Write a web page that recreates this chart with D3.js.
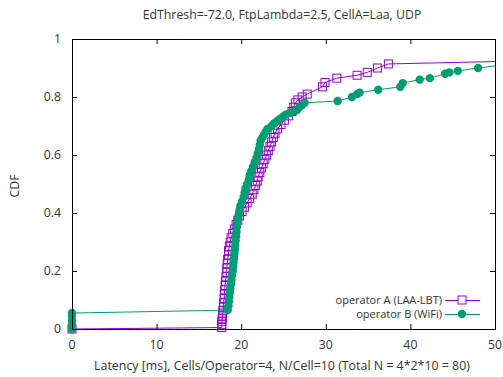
<!DOCTYPE html>
<html>
<head>
<meta charset="utf-8">
<script src="https://cdn.jsdelivr.net/npm/d3@7"></script>
<style>
  body { margin: 0; background: #fff; }
  svg { display: block; }
  text { font-family: "Open Sans", sans-serif; fill: #333; }
</style>
</head>
<body>
<svg id="chart" width="503" height="377"></svg>
<script>
// CDF points: [latency ms, cdf]
var seriesA = [
  [0, 0.0], [17.7, 0.005], [17.7, 0.015], [17.7, 0.025], [17.75, 0.035], [17.8, 0.045],
  [17.8, 0.055], [17.85, 0.065], [17.9, 0.075], [17.9, 0.09], [18.0, 0.105], [18.0, 0.12],
  [18.05, 0.135], [18.1, 0.15], [18.15, 0.165], [18.2, 0.18], [18.3, 0.195], [18.3, 0.21],
  [18.35, 0.225], [18.4, 0.24], [18.5, 0.255], [18.5, 0.27], [18.6, 0.285], [18.7, 0.30],
  [18.8, 0.315], [19.0, 0.33], [19.2, 0.345], [19.4, 0.36], [19.6, 0.375], [19.8, 0.39],
  [20.1, 0.405], [20.4, 0.42], [20.7, 0.435], [21.0, 0.45], [21.3, 0.465], [21.5, 0.48],
  [21.7, 0.495], [21.9, 0.51], [22.0, 0.525], [22.2, 0.54], [22.4, 0.555], [22.6, 0.57],
  [22.8, 0.585], [23.0, 0.60], [23.2, 0.615], [23.4, 0.63], [23.6, 0.645], [23.8, 0.66],
  [24.0, 0.675], [24.3, 0.69], [24.7, 0.705], [25.1, 0.72], [25.6, 0.735], [26.0, 0.75],
  [26.2, 0.765], [26.4, 0.78], [26.7, 0.79], [27.2, 0.80], [27.8, 0.81], [29.6, 0.835],
  [29.9, 0.85], [31.3, 0.865], [33.7, 0.875], [34.9, 0.885], [36.1, 0.90], [37.4, 0.914],
  [62, 0.93]
];
var seriesB = [
  [0, 0.0], [0, 0.015], [0, 0.03], [0, 0.045], [0, 0.055], [18.4, 0.065],
  [18.5, 0.08], [18.55, 0.095], [18.6, 0.11], [18.65, 0.125], [18.7, 0.14], [18.8, 0.155],
  [18.85, 0.17], [18.9, 0.185], [19.0, 0.20], [19.05, 0.215], [19.1, 0.23], [19.15, 0.245],
  [19.2, 0.26], [19.25, 0.275], [19.3, 0.29], [19.35, 0.305], [19.4, 0.32], [19.45, 0.335],
  [19.45, 0.35], [19.5, 0.365], [19.6, 0.38], [19.7, 0.395], [19.8, 0.41], [19.9, 0.425],
  [20.1, 0.44], [20.3, 0.455], [20.4, 0.47], [20.5, 0.485], [20.7, 0.50], [20.9, 0.515],
  [21.0, 0.53], [21.2, 0.545], [21.4, 0.56], [21.6, 0.575], [21.8, 0.59], [21.95, 0.605],
  [22.1, 0.62], [22.2, 0.635], [22.3, 0.65], [22.5, 0.66], [22.7, 0.67], [22.9, 0.68],
  [23.1, 0.69], [23.6, 0.70], [23.9, 0.71], [24.3, 0.718], [24.6, 0.725], [25.0, 0.733],
  [25.3, 0.74], [25.8, 0.745], [26.2, 0.75], [26.6, 0.755], [26.9, 0.765], [27.2, 0.772],
  [27.5, 0.78], [31.4, 0.786], [33.1, 0.80], [33.7, 0.81], [34.0, 0.815], [36.2, 0.825],
  [38.8, 0.835], [39.1, 0.848], [41.1, 0.86], [42.3, 0.865], [44.1, 0.88], [44.6, 0.885],
  [45.6, 0.89], [48.0, 0.90], [55, 0.925]
];
var seriesNames = ["operator A (LAA-LBT)", "operator B (WiFi)"];
var seriesColors = ["#9400d3", "#009e73"];
var xTicks = [0, 10, 20, 30, 40, 50];
var yTicks = [0, 0.2, 0.4, 0.6, 0.8, 1];
var titleText = "EdThresh=-72.0, FtpLambda=2.5, CellA=Laa, UDP";
var xLabelText = "Latency [ms], Cells/Operator=4, N/Cell=10 (Total N = 4*2*10 = 80)";
var yLabelText = "CDF";

var svg = d3.select("#chart");
var margin = { left: 72, right: 8, top: 39, bottom: 48 };
var width = +svg.attr("width"), height = +svg.attr("height");

var x = d3.scaleLinear().domain([0, 50]).range([margin.left, width - margin.right]);
var y = d3.scaleLinear().domain([0, 1]).range([height - margin.bottom, margin.top]);

svg.append("clipPath").attr("id", "plotclip")
  .append("rect")
  .attr("x", x(0)).attr("y", y(1))
  .attr("width", x(50) - x(0)).attr("height", y(0) - y(1));

// title
svg.append("text")
  .attr("x", 282).attr("y", 19)
  .attr("text-anchor", "middle")
  .style("font-size", "12.3px")
  .text(titleText);

// ticks on all four sides, pointing in
var tickLen = 5;
var axisG = svg.append("g").attr("stroke", "#000").attr("stroke-width", 1);
xTicks.forEach(function(t) {
  axisG.append("line").attr("x1", x(t) + 0.5).attr("x2", x(t) + 0.5)
    .attr("y1", y(0)).attr("y2", y(0) - tickLen);
  axisG.append("line").attr("x1", x(t) + 0.5).attr("x2", x(t) + 0.5)
    .attr("y1", y(1)).attr("y2", y(1) + tickLen);
});
yTicks.forEach(function(t) {
  axisG.append("line").attr("x1", x(0)).attr("x2", x(0) + tickLen)
    .attr("y1", y(t) + 0.5).attr("y2", y(t) + 0.5);
  axisG.append("line").attr("x1", x(50)).attr("x2", x(50) - tickLen)
    .attr("y1", y(t) + 0.5).attr("y2", y(t) + 0.5);
});

svg.append("g").selectAll("text").data(xTicks).enter().append("text")
  .attr("x", function(d) { return x(d); })
  .attr("y", y(0) + 20)
  .attr("text-anchor", "middle")
  .style("font-size", "12.3px")
  .text(function(d) { return d; });

svg.append("g").selectAll("text").data(yTicks).enter().append("text")
  .attr("x", x(0) - 11)
  .attr("y", function(d) { return y(d) + 4; })
  .attr("text-anchor", "end")
  .style("font-size", "12.3px")
  .text(function(d) { return d; });

svg.append("text")
  .attr("x", 282).attr("y", 370)
  .attr("text-anchor", "middle")
  .style("font-size", "12.4px")
  .text(xLabelText);

svg.append("text")
  .attr("transform", "translate(19,186) rotate(-90)")
  .attr("text-anchor", "middle")
  .style("font-size", "12.3px")
  .text(yLabelText);

// series
var line = d3.line().x(function(d) { return x(d[0]); }).y(function(d) { return y(d[1]); });
var inRange = function(d) { return d[0] <= 50; };

function drawSquares(g, data, color) {
  g.selectAll("rect").data(data.filter(inRange)).enter().append("rect")
    .attr("x", function(d) { return x(d[0]) - 4; })
    .attr("y", function(d) { return y(d[1]) - 4; })
    .attr("width", 8).attr("height", 8)
    .attr("fill", "none").attr("stroke", color).attr("stroke-width", 1);
}
function drawCircles(g, data, color) {
  g.selectAll("circle").data(data.filter(inRange)).enter().append("circle")
    .attr("cx", function(d) { return x(d[0]); })
    .attr("cy", function(d) { return y(d[1]); })
    .attr("r", 4.2)
    .attr("fill", color);
}

var gA = svg.append("g");
gA.append("path").datum(seriesA).attr("d", line)
  .attr("clip-path", "url(#plotclip)")
  .attr("fill", "none").attr("stroke", seriesColors[0]).attr("stroke-width", 1);
drawSquares(gA, seriesA, seriesColors[0]);

var gB = svg.append("g");
gB.append("path").datum(seriesB).attr("d", line)
  .attr("clip-path", "url(#plotclip)")
  .attr("fill", "none").attr("stroke", seriesColors[1]).attr("stroke-width", 1);
drawCircles(gB, seriesB, seriesColors[1]);

// border
svg.append("rect")
  .attr("x", x(0) + 0.5).attr("y", y(1) + 0.5)
  .attr("width", x(50) - x(0)).attr("height", y(0) - y(1))
  .attr("fill", "none").attr("stroke", "#000").attr("stroke-width", 1);

// legend
var legend = svg.append("g");
seriesNames.forEach(function(name, i) {
  var ly = 300 + i * 14;
  legend.append("text")
    .attr("x", 442).attr("y", ly + 4)
    .attr("text-anchor", "end")
    .style("font-size", "11px")
    .text(name);
  legend.append("line")
    .attr("x1", 445).attr("x2", 480)
    .attr("y1", ly + 0.5).attr("y2", ly + 0.5)
    .attr("stroke", seriesColors[i]).attr("stroke-width", 1);
  if (i === 0) {
    legend.append("rect").attr("x", 458).attr("y", ly - 4)
      .attr("width", 8).attr("height", 8)
      .attr("fill", "#fff").attr("stroke", seriesColors[i]);
  } else {
    legend.append("circle").attr("cx", 462).attr("cy", ly).attr("r", 4.2)
      .attr("fill", seriesColors[i]);
  }
});
</script>
</body>
</html>
